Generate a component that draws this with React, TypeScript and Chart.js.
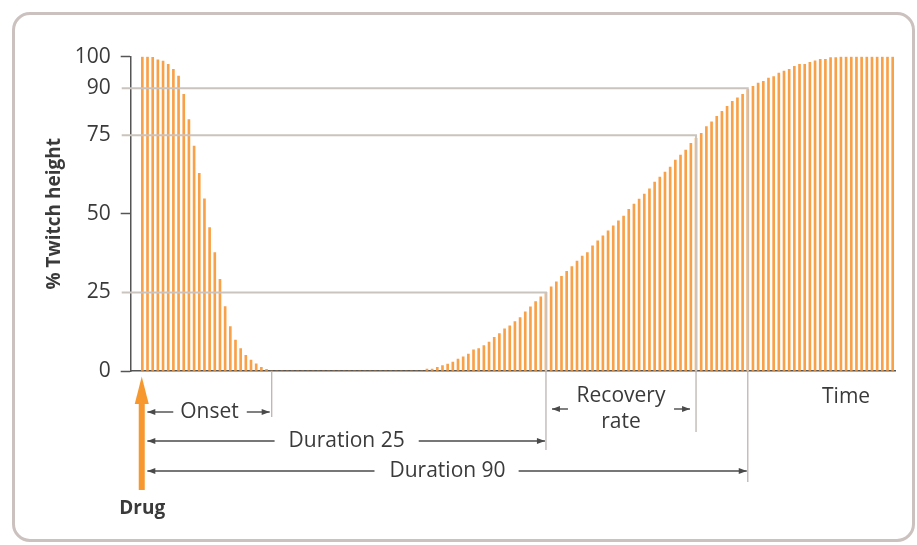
import React, { useEffect, useRef } from 'react';
import { Chart, registerables } from 'chart.js';

Chart.register(...registerables);

// % twitch height per stimulus, onset phase (after drug)
const twitchOnset = [
  100, 100, 99.8, 99, 98.6, 97.6, 96, 93.8, 88, 80, 71.6, 62.9, 54.8, 45.6, 37.7,
  29.2, 20.5, 14.1, 9.8, 7.1, 5, 3.5, 2.3, 1.2, 0.5,
];
// complete block
const twitchBlocked = [
  0, 0, 0, 0, 0, 0, 0, 0, 0, 0, 0, 0, 0, 0, 0, 0, 0, 0, 0, 0, 0, 0, 0, 0, 0, 0, 0, 0, 0, 0,
];
// recovery phase
const twitchRecovery = [
  0.6, 0.6, 1.2, 1.7, 2.2, 2.8, 3.8, 4.5, 5.4, 6.7, 7.1, 8.1, 9.2, 10.7, 11.9, 13.4, 14.4,
  15.7, 17, 18.8, 20.4, 22.1, 23.6, 25, 26.8, 28.4, 30.1, 31.7, 33.2, 35, 36.6, 37.7, 39.8,
  41.4, 43, 44.6, 46.2, 47.8, 49.3, 51.4, 53.1, 54.7, 56.3, 58, 60.1, 61.7, 63.3, 64.9,
  67.1, 68.7, 70.3, 72.4, 74, 75.6, 77.8, 79.3, 81, 82.6, 84.2, 85.8, 86.9, 88, 89.5, 90.6,
  91.6, 92.2, 93.2, 93.7, 94.8, 95.4, 96, 96.9, 97.6, 97.6, 98.2, 98.7, 99.2, 99.2, 99.7,
  99.7, 100, 100, 100, 100, 100, 100, 100, 100, 100, 100, 100,
];
const twitchHeight = [...twitchOnset, ...twitchBlocked, ...twitchRecovery];
const timeSteps = twitchHeight.map((_, i) => i);

const yTicks = [0, 25, 50, 75, 90, 100];
const darkTicks = [0, 50, 100];

// reference levels and the time step where recovery reaches them
const markerLevels = [25, 75, 90];
const markerIndex = [78, 107, 117];
const onsetEndIndex = 25;

const yTitle = '% Twitch height';
const xTitle = 'Time';
const onsetLabel = 'Onset';
const dur25Label = 'Duration 25';
const dur90Label = 'Duration 90';
const recoveryLabel = ['Recovery', 'rate'];
const drugLabel = 'Drug';

const FONT = '"Open Sans", "DejaVu Sans", sans-serif';
const TEXT = '#3a3a3a';
const DARK = '#4a4a4a';

function arrowHead(ctx: CanvasRenderingContext2D, x: number, y: number, dir: number) {
  ctx.beginPath();
  ctx.moveTo(x, y);
  ctx.lineTo(x - dir * 8, y - 3);
  ctx.lineTo(x - dir * 8, y + 3);
  ctx.closePath();
  ctx.fill();
}

function hArrow(ctx: CanvasRenderingContext2D, x1: number, x2: number, y: number, headAt: 'start' | 'end') {
  ctx.beginPath();
  ctx.moveTo(x1, y);
  ctx.lineTo(x2, y);
  ctx.stroke();
  if (headAt === 'start') arrowHead(ctx, x1, y, -1);
  else arrowHead(ctx, x2, y, 1);
}

const annotate = {
  id: 'annotate',
  afterDatasetsDraw(chart: any) {
    const { ctx, scales } = chart;
    const x = scales.x;
    const y = scales.y;
    const base = y.getPixelForValue(0);
    const x0 = x.getPixelForValue(0);
    const startX = x0 + 5;
    ctx.save();

    // reference level lines
    ctx.strokeStyle = '#cbc3bd';
    ctx.lineWidth = 2;
    markerLevels.forEach((lv, k) => {
      const py = y.getPixelForValue(lv);
      const px = x.getPixelForValue(markerIndex[k]);
      ctx.beginPath();
      ctx.moveTo(y.right - 9, py);
      ctx.lineTo(px, py);
      ctx.lineTo(px, base);
      ctx.stroke();
    });

    // verticals below axis
    ctx.strokeStyle = '#bdb5af';
    ctx.lineWidth = 1.3;
    const below: [number, number][] = [
      [onsetEndIndex, 46],
      [markerIndex[0], 79],
      [markerIndex[1], 61],
      [markerIndex[2], 111],
    ];
    below.forEach(([idx, len]) => {
      const px = x.getPixelForValue(idx);
      ctx.beginPath();
      ctx.moveTo(px, base);
      ctx.lineTo(px, base + len);
      ctx.stroke();
    });

    ctx.fillStyle = TEXT;
    ctx.font = `21px ${FONT}`;
    ctx.textAlign = 'center';
    ctx.textBaseline = 'middle';

    ctx.strokeStyle = DARK;
    ctx.lineWidth = 1.4;

    // Onset
    {
      const xe = x.getPixelForValue(onsetEndIndex);
      const cx = (startX + xe) / 2;
      const yy = base + 41;
      const w = ctx.measureText(onsetLabel).width;
      ctx.fillStyle = TEXT;
      ctx.fillText(onsetLabel, cx, yy);
      ctx.fillStyle = DARK;
      hArrow(ctx, startX, cx - w / 2 - 7, yy, 'start');
      hArrow(ctx, cx + w / 2 + 8, xe - 2, yy, 'end');
    }
    // Duration 25
    {
      const xe = x.getPixelForValue(markerIndex[0]);
      const cx = (startX + xe) / 2;
      const yy = base + 70;
      const w = ctx.measureText(dur25Label).width;
      ctx.fillStyle = TEXT;
      ctx.fillText(dur25Label, cx, yy);
      ctx.fillStyle = DARK;
      hArrow(ctx, startX, cx - w / 2 - 14, yy, 'start');
      hArrow(ctx, cx + w / 2 + 14, xe - 1, yy, 'end');
    }
    // Duration 90
    {
      const xe = x.getPixelForValue(markerIndex[2]);
      const cx = (startX + xe) / 2;
      const yy = base + 100;
      const w = ctx.measureText(dur90Label).width;
      ctx.fillStyle = TEXT;
      ctx.fillText(dur90Label, cx, yy);
      ctx.fillStyle = DARK;
      hArrow(ctx, startX, cx - w / 2 - 15, yy, 'start');
      hArrow(ctx, cx + w / 2 + 13, xe - 1, yy, 'end');
    }
    // Recovery rate
    {
      const xa = x.getPixelForValue(markerIndex[0]);
      const xb = x.getPixelForValue(markerIndex[1]);
      const cx = (xa + xb) / 2;
      ctx.fillStyle = TEXT;
      ctx.fillText(recoveryLabel[0], cx, base + 25);
      ctx.fillText(recoveryLabel[1], cx, base + 51);
      ctx.fillStyle = DARK;
      hArrow(ctx, xa + 6, xa + 22, base + 38, 'start');
      hArrow(ctx, xb - 22, xb - 6, base + 38, 'end');
    }
    // Time
    ctx.fillStyle = TEXT;
    ctx.fillText(xTitle, x.getPixelForValue(136), base + 26);

    // Drug arrow
    {
      const ax = x0 - 0.6;
      ctx.fillStyle = '#f7982f';
      ctx.fillRect(ax - 3, base + 32, 6, 87);
      ctx.beginPath();
      ctx.moveTo(ax, base + 5.5);
      ctx.lineTo(ax - 7, base + 33);
      ctx.lineTo(ax + 7, base + 33);
      ctx.closePath();
      ctx.fill();
      ctx.fillStyle = '#3a3a3a';
      ctx.font = `bold 19px ${FONT}`;
      ctx.fillText(drugLabel, ax + 0.5, base + 138);
    }

    // y title
    ctx.save();
    ctx.translate(55, (y.top + base) / 2);
    ctx.rotate(-Math.PI / 2);
    ctx.font = `bold 19px ${FONT}`;
    ctx.fillStyle = '#3a3a3a';
    ctx.fillText(yTitle, 0, 0);
    ctx.restore();

    ctx.restore();
  },
};

export default function App() {
  const ref = useRef<HTMLCanvasElement | null>(null);

  useEffect(() => {
    if (!ref.current) return;
    const chart = new Chart(ref.current, {
      type: 'bar',
      data: {
        datasets: [
          {
            data: twitchHeight.map((v, i) => ({ x: timeSteps[i], y: v })) as any,
            backgroundColor: '#f9a149',
            borderWidth: 0,
            barThickness: 2,
          },
        ],
      },
      options: {
        animation: false,
        responsive: false,
        maintainAspectRatio: false,
        layout: { padding: { left: 0, top: 56.7, right: 22, bottom: 174 } },
        plugins: { legend: { display: false }, tooltip: { enabled: false } },
        scales: {
          x: {
            type: 'linear',
            offset: false,
            min: -2.25,
            max: 145.45,
            grid: { display: false, drawTicks: false, tickLength: 0 },
            ticks: { display: false },
            border: { display: true, color: '#555', width: 1.5 },
          },
          y: {
            type: 'linear',
            min: 0,
            max: 100,
            afterFit: (s: any) => {
              s.width = 130.7;
            },
            afterBuildTicks: (s: any) => {
              s.ticks = yTicks.map((v) => ({ value: v }));
            },
            grid: {
              display: true,
              drawOnChartArea: false,
              drawTicks: true,
              tickLength: 10,
              tickWidth: 1.5,
              tickColor: (c: any) =>
                darkTicks.includes(c.tick?.value) ? '#555' : 'rgba(0,0,0,0)',
            },
            border: { display: true, color: '#555', width: 1.5 },
            ticks: {
              autoSkip: false,
              padding: 10,
              color: '#3a3a3a',
              font: { family: FONT, size: 21 },
            },
          },
        },
      } as any,
      plugins: [annotate],
    });
    return () => chart.destroy();
  }, []);

  return (
    <div style={{ position: 'fixed', left: 0, top: 0, width: 917, height: 545, background: '#fff', overflow: 'hidden' }}>
      <div
        style={{
          position: 'absolute',
          left: 12,
          top: 12,
          width: 903,
          height: 530,
          border: '3px solid #cbc1be',
          borderRadius: 18,
          boxSizing: 'border-box',
        }}
      />
      <canvas
        ref={ref}
        width={917}
        height={545}
        style={{ position: 'absolute', left: 0, top: 0, width: 917, height: 545 }}
      />
    </div>
  );
}
